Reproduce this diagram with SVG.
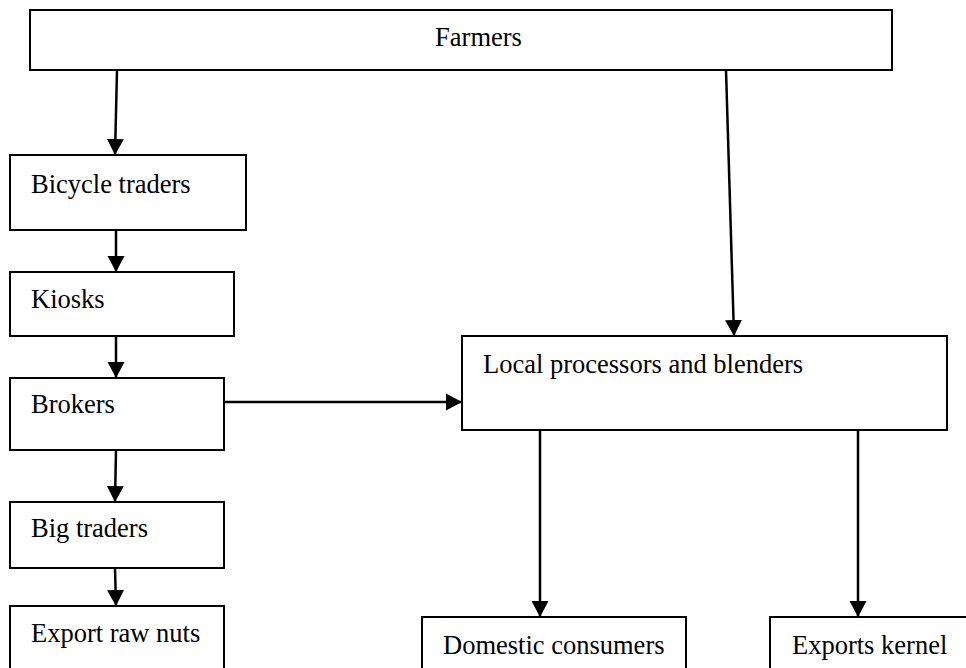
<svg xmlns="http://www.w3.org/2000/svg" width="966" height="668" viewBox="0 0 966 668">
  <style>
    .box { fill: #ffffff; stroke: #000000; stroke-width: 2; }
    .lbl { font-family: "Liberation Serif", "Times New Roman", serif; font-size: 26.5px; fill: #000000; }
    .edge { stroke: #000000; stroke-width: 2.5; fill: none; marker-end: url(#arrow); }
  </style>
  <defs>
    <marker id="arrow" markerUnits="userSpaceOnUse" markerWidth="18" markerHeight="18" viewBox="0 0 18 18" refX="16" refY="9" orient="auto">
      <path d="M0,0.5 L16,9 L0,17.5 Z" fill="#000000"/>
    </marker>
  </defs>
  <rect x="0" y="0" width="966" height="668" fill="#ffffff"/>

  <g id="connectors">
    <line class="edge" x1="117" y1="70" x2="115" y2="155"/>
    <line class="edge" x1="116" y1="230" x2="116" y2="272"/>
    <line class="edge" x1="116" y1="336" x2="116" y2="378"/>
    <line class="edge" x1="116" y1="450" x2="115" y2="502"/>
    <line class="edge" x1="115" y1="568" x2="116" y2="606"/>
    <line class="edge" x1="726" y1="70" x2="734" y2="336"/>
    <line class="edge" x1="224" y1="402" x2="462" y2="402"/>
    <line class="edge" x1="540" y1="430" x2="540" y2="617"/>
    <line class="edge" x1="858" y1="430" x2="858" y2="617"/>
  </g>

  <g id="farmers">
    <rect class="box" x="30" y="10" width="862" height="60"/>
    <text class="lbl" x="478.5" y="46" text-anchor="middle">Farmers</text>
  </g>
  <g id="bicycle-traders">
    <rect class="box" x="10" y="155" width="236" height="75"/>
    <text class="lbl" x="31" y="193">Bicycle traders</text>
  </g>
  <g id="kiosks">
    <rect class="box" x="10" y="272" width="224" height="64"/>
    <text class="lbl" x="31" y="308">Kiosks</text>
  </g>
  <g id="brokers">
    <rect class="box" x="10" y="378" width="214" height="72"/>
    <text class="lbl" x="31" y="413">Brokers</text>
  </g>
  <g id="big-traders">
    <rect class="box" x="10" y="502" width="214" height="66"/>
    <text class="lbl" x="31" y="537">Big traders</text>
  </g>
  <g id="export-raw-nuts">
    <rect class="box" x="10" y="606" width="214" height="80"/>
    <text class="lbl" x="31" y="642">Export raw nuts</text>
  </g>
  <g id="local-processors">
    <rect class="box" x="462" y="336" width="485" height="94"/>
    <text class="lbl" x="483" y="373">Local processors and blenders</text>
  </g>
  <g id="domestic-consumers">
    <rect class="box" x="422" y="617" width="264" height="70"/>
    <text class="lbl" x="443" y="654">Domestic consumers</text>
  </g>
  <g id="exports-kernel">
    <rect class="box" x="770" y="617" width="210" height="70"/>
    <text class="lbl" x="792" y="654">Exports kernel</text>
  </g>
</svg>
